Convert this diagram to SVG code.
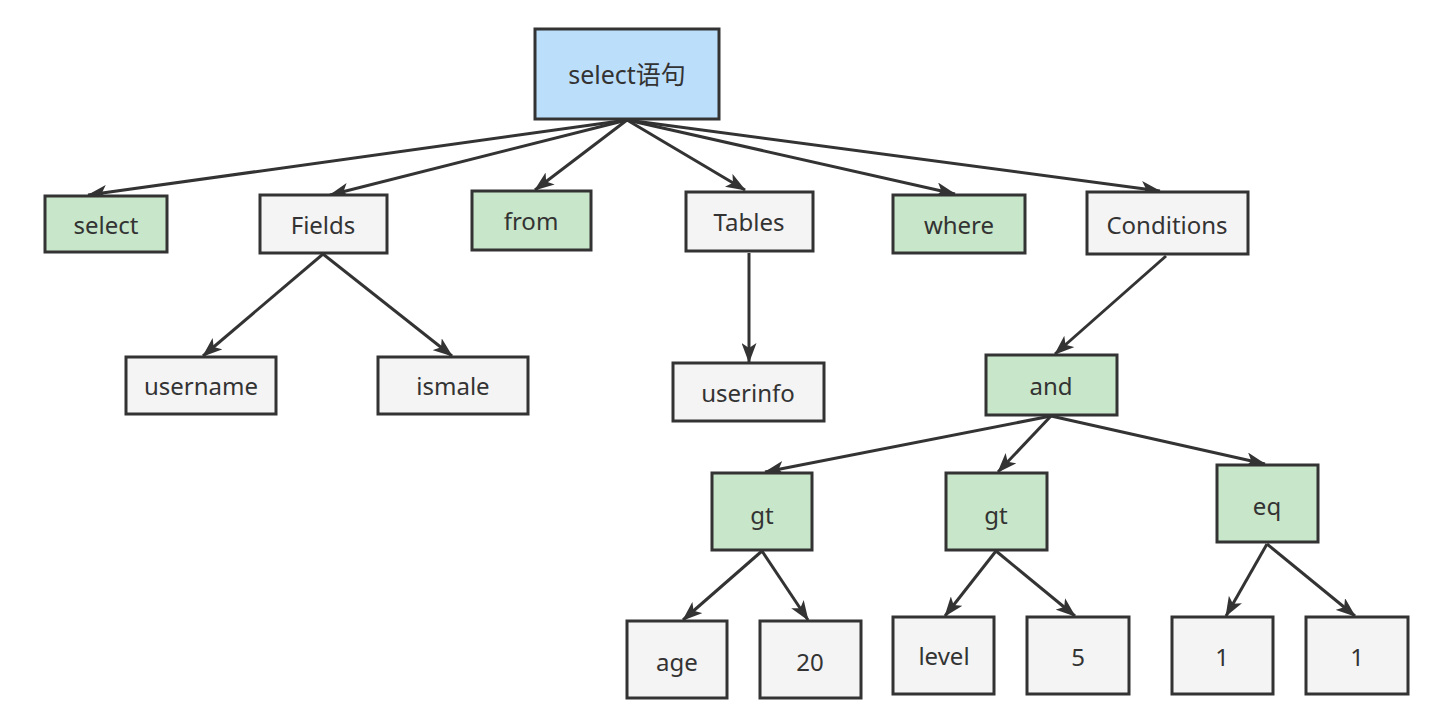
<svg xmlns="http://www.w3.org/2000/svg" width="1454" height="722" viewBox="0 0 1454 722">
  <style>
    .box { stroke: #333333; stroke-width: 3; }
    .root { fill: #bbdefb; }
    .kw { fill: #c8e6c9; }
    .plain { fill: #f4f4f4; }
    .lbl { font-family: "Noto Sans", "Noto Sans CJK SC", sans-serif; font-size: 24px; fill: #333333; text-anchor: middle; dominant-baseline: central; }
    .big { font-size: 25px; }
    .edge { stroke: #333333; stroke-width: 3; fill: none; marker-end: url(#arrow); }
  </style>
  <defs>
    <marker id="arrow" markerUnits="userSpaceOnUse" viewBox="0 0 20 15" refX="19" refY="7.5" markerWidth="20" markerHeight="15" orient="auto">
      <path d="M0,0 L20,7.5 L0,15 L5,7.5 z" fill="#333333"/>
    </marker>
  </defs>
  <rect width="1454" height="722" fill="#ffffff"/>

  <!-- connectors -->
  <g id="edges">
    <line class="edge" x1="627" y1="120" x2="88" y2="195"/>
    <line class="edge" x1="627" y1="120" x2="330" y2="195"/>
    <line class="edge" x1="627" y1="120" x2="535" y2="190"/>
    <line class="edge" x1="627" y1="120" x2="745" y2="190"/>
    <line class="edge" x1="627" y1="120" x2="955" y2="194"/>
    <line class="edge" x1="627" y1="120" x2="1160" y2="191"/>
    <line class="edge" x1="323" y1="254" x2="203" y2="356"/>
    <line class="edge" x1="323" y1="254" x2="452" y2="356"/>
    <line class="edge" x1="749" y1="253" x2="749" y2="362"/>
    <line class="edge" x1="1166" y1="256" x2="1055" y2="354"/>
    <line class="edge" x1="1051" y1="416" x2="765" y2="472"/>
    <line class="edge" x1="1051" y1="416" x2="998" y2="472"/>
    <line class="edge" x1="1051" y1="416" x2="1265" y2="464"/>
    <line class="edge" x1="762" y1="551" x2="683" y2="620"/>
    <line class="edge" x1="762" y1="551" x2="808" y2="620"/>
    <line class="edge" x1="996" y1="551" x2="945" y2="616"/>
    <line class="edge" x1="996" y1="551" x2="1075" y2="616"/>
    <line class="edge" x1="1267" y1="544" x2="1226" y2="616"/>
    <line class="edge" x1="1267" y1="544" x2="1355" y2="616"/>
  </g>

  <!-- nodes -->
  <g id="n-root"><rect class="box root" x="535" y="29" width="184" height="90"/><text class="lbl big" x="627" y="74">select语句</text></g>
  <g id="n-select"><rect class="box kw" x="45" y="196" width="122" height="56"/><text class="lbl" x="106" y="224">select</text></g>
  <g id="n-fields"><rect class="box plain" x="260" y="195" width="127" height="58"/><text class="lbl" x="323" y="224">Fields</text></g>
  <g id="n-from"><rect class="box kw" x="472" y="191" width="119" height="59"/><text class="lbl" x="531" y="220">from</text></g>
  <g id="n-tables"><rect class="box plain" x="686" y="192" width="127" height="59"/><text class="lbl" x="749" y="221">Tables</text></g>
  <g id="n-where"><rect class="box kw" x="893" y="195" width="132" height="58"/><text class="lbl" x="959" y="224">where</text></g>
  <g id="n-conditions"><rect class="box plain" x="1087" y="192" width="161" height="62"/><text class="lbl" x="1167" y="224">Conditions</text></g>
  <g id="n-username"><rect class="box plain" x="126" y="357" width="150" height="57"/><text class="lbl" x="201" y="385">username</text></g>
  <g id="n-ismale"><rect class="box plain" x="378" y="357" width="150" height="57"/><text class="lbl" x="453" y="385">ismale</text></g>
  <g id="n-userinfo"><rect class="box plain" x="673" y="363" width="151" height="58"/><text class="lbl" x="748" y="392">userinfo</text></g>
  <g id="n-and"><rect class="box kw" x="986" y="355" width="131" height="60"/><text class="lbl" x="1051" y="385">and</text></g>
  <g id="n-gt1"><rect class="box kw" x="712" y="473" width="100" height="77"/><text class="lbl" x="762" y="514">gt</text></g>
  <g id="n-gt2"><rect class="box kw" x="946" y="473" width="101" height="77"/><text class="lbl" x="996" y="514">gt</text></g>
  <g id="n-eq"><rect class="box kw" x="1217" y="465" width="101" height="77"/><text class="lbl" x="1267" y="505">eq</text></g>
  <g id="n-age"><rect class="box plain" x="627" y="621" width="100" height="77"/><text class="lbl" x="677" y="661">age</text></g>
  <g id="n-20"><rect class="box plain" x="760" y="621" width="101" height="77"/><text class="lbl" x="810" y="661">20</text></g>
  <g id="n-level"><rect class="box plain" x="893" y="617" width="101" height="77"/><text class="lbl" x="944" y="655">level</text></g>
  <g id="n-5"><rect class="box plain" x="1027" y="617" width="102" height="77"/><text class="lbl" x="1078" y="656">5</text></g>
  <g id="n-1a"><rect class="box plain" x="1172" y="617" width="101" height="77"/><text class="lbl" x="1222" y="656">1</text></g>
  <g id="n-1b"><rect class="box plain" x="1306" y="617" width="102" height="77"/><text class="lbl" x="1357" y="656">1</text></g>
</svg>
